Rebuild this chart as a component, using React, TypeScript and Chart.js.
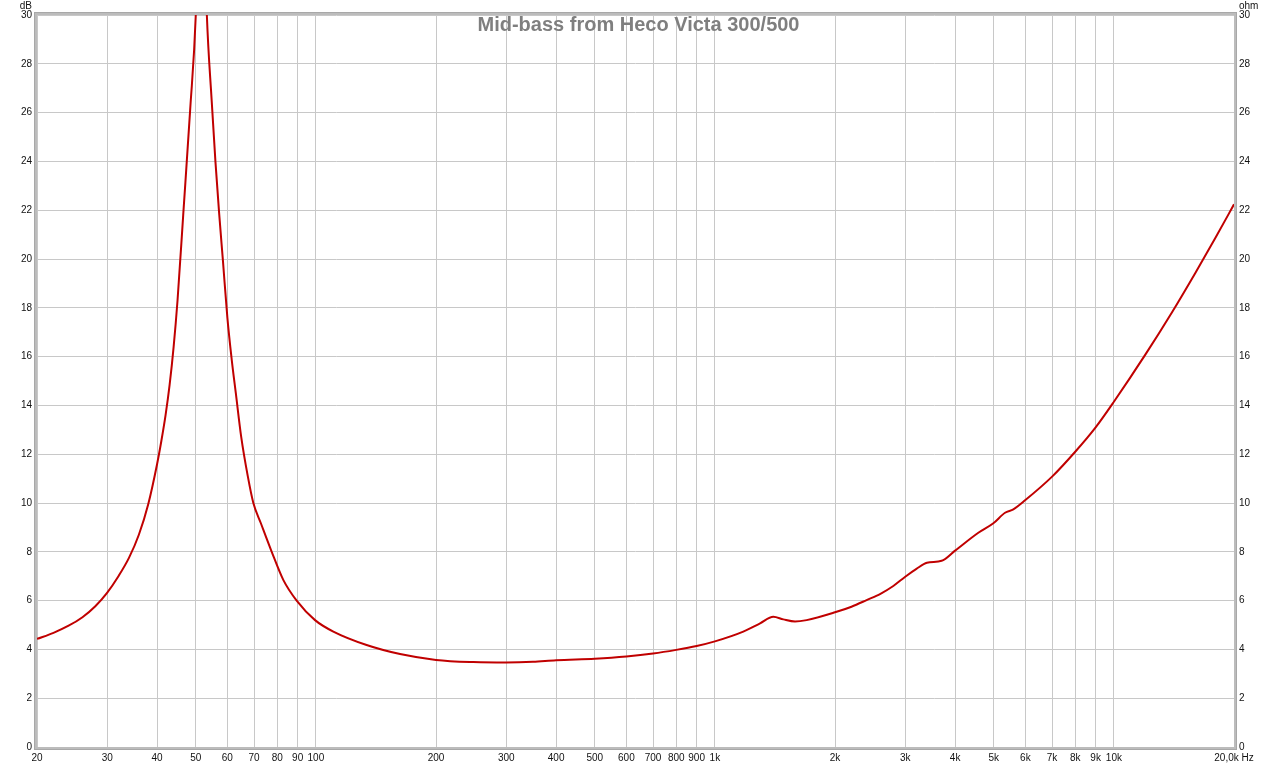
import React, { useEffect, useRef } from "react";
import { Chart, registerables } from "chart.js";

Chart.register(...registerables);

const chartTitle = "Mid-bass from Heco Victa 300/500";

const freqs = [
  20, 22, 24, 26, 28, 30, 32, 34, 36, 38, 40, 41, 42, 43, 44, 45, 46.5, 48.4, 50, 51.6,
  53.3, 54.8, 56, 57.2, 58.5, 60, 61.5, 63, 65, 67.5, 69.7, 72.8, 77.5, 82.9, 89.5, 99.5, 110.6, 134,
  162.5, 200, 248, 300, 350, 400, 500, 600, 700, 800, 900, 1000, 1178, 1298, 1401, 1484, 1588,
  1698, 2000, 2200, 2400, 2600, 2800, 3000, 3200, 3400, 3700, 4000, 4574, 4988, 5336, 5598, 6000, 7000,
  8000, 9000, 10000, 12000, 14000, 16000, 18000, 20000,
];

const impedance = [
  4.43, 4.68, 4.97, 5.32, 5.77, 6.33, 7.0, 7.75, 8.7, 9.95, 11.6, 12.55, 13.6, 14.85, 16.4, 18.3, 21.8, 26.1, 30, 38,
  30, 26.5, 24, 21.9, 19.9, 17.6, 15.9, 14.5, 12.7, 11.1, 10.0, 9.17, 8, 6.84, 6.0, 5.2, 4.73, 4.18,
  3.81, 3.57, 3.48, 3.46, 3.49, 3.56, 3.62, 3.71, 3.83, 3.98, 4.14, 4.33, 4.73, 5.07, 5.34, 5.23, 5.14,
  5.2, 5.52, 5.75, 6.02, 6.28, 6.6, 6.98, 7.3, 7.55, 7.63, 8.05, 8.78, 9.17, 9.6, 9.74, 10.12, 11.08,
  12.1, 13.1, 14.15, 16.09, 17.83, 19.43, 20.89, 22.24,
];

const xTickValues = [
  20, 30, 40, 50, 60, 70, 80, 90, 100, 200, 300, 400, 500, 600, 700, 800, 900, 1000, 2000, 3000,
  4000, 5000, 6000, 7000, 8000, 9000, 10000, 20000,
];
const xTickLabels = [
  "20", "30", "40", "50", "60", "70", "80", "90", "100", "200", "300", "400", "500", "600", "700",
  "800", "900", "1k", "2k", "3k", "4k", "5k", "6k", "7k", "8k", "9k", "10k", "20,0k Hz",
];

const yMin = 0;
const yMax = 30;
const yStep = 2;
const leftUnit = "dB";
const rightUnit = "ohm";

const framePlugin = {
  id: "framePlugin",
  afterDraw(chart: any) {
    const { ctx, chartArea } = chart;
    const { left, right, top, bottom } = chartArea;
    ctx.save();
    ctx.lineWidth = 3;
    ctx.strokeStyle = "#bcbcbc";
    ctx.strokeRect(left - 1.5, top - 1.5, right - left + 3, bottom - top + 3);
    ctx.lineWidth = 1;
    ctx.strokeStyle = "#a8a8a8";
    ctx.strokeRect(left - 2.5, top - 2.5, right - left + 5, bottom - top + 5);
    // title
    ctx.font = "bold 20px 'Liberation Sans', Arial, sans-serif";
    ctx.fillStyle = "#7f7f7f";
    ctx.textAlign = "center";
    ctx.textBaseline = "alphabetic";
    ctx.fillText(chartTitle, (left + right) / 2 + 3, top + 16);
    // units
    ctx.font = "10px 'Liberation Sans', Arial, sans-serif";
    ctx.fillStyle = "#111";
    ctx.textAlign = "right";
    ctx.fillText(leftUnit, left - 5, top - 6);
    ctx.textAlign = "left";
    ctx.fillText(rightUnit, right + 5, top - 6);
    ctx.restore();
  },
};

export default function App() {
  const canvasRef = useRef<HTMLCanvasElement | null>(null);

  useEffect(() => {
    if (!canvasRef.current) return;
    const tickFont = { family: "'Liberation Sans', Arial, sans-serif", size: 10 };
    const chart = new Chart(canvasRef.current, {
      type: "line",
      data: {
        datasets: [
          {
            data: freqs.map((f, i) => ({ x: f, y: impedance[i] })),
            borderColor: "#c00000",
            borderWidth: 2,
            pointRadius: 0,
            cubicInterpolationMode: "monotone",
            fill: false,
          },
        ],
      },
      options: {
        animation: false,
        responsive: true,
        maintainAspectRatio: false,
        layout: { padding: { top: 15, left: 0, right: 0, bottom: 0 } },
        plugins: { legend: { display: false }, tooltip: { enabled: false }, title: { display: false } },
        scales: {
          x: {
            type: "logarithmic",
            min: 20,
            max: 20000,
            afterBuildTicks: (axis: any) => {
              axis.ticks = xTickValues.map((v) => ({ value: v }));
            },
            afterFit: (s: any) => {
              s.height = 20;
            },
            ticks: {
              autoSkip: false,
              maxRotation: 0,
              padding: 5,
              color: "#111",
              font: tickFont,
              callback: (v: any) => {
                const i = xTickValues.indexOf(Number(v));
                return i >= 0 ? xTickLabels[i] : "";
              },
            },
            grid: { color: "#c8c8c8", lineWidth: 1, drawTicks: false },
            border: { display: false },
          },
          y: {
            position: "left",
            min: yMin,
            max: yMax,
            afterFit: (s: any) => {
              s.width = 37;
            },
            ticks: { stepSize: yStep, padding: 5, color: "#111", font: tickFont },
            grid: { color: "#c8c8c8", lineWidth: 1, drawTicks: false },
            border: { display: false },
          },
          y2: {
            position: "right",
            min: yMin,
            max: yMax,
            afterFit: (s: any) => {
              s.width = 46;
            },
            ticks: { stepSize: yStep, padding: 5, color: "#111", font: tickFont },
            grid: { display: false, drawTicks: false },
            border: { display: false },
          },
        },
      } as any,
      plugins: [framePlugin],
    });
    return () => chart.destroy();
  }, []);

  return (
    <div style={{ position: "fixed", left: 0, top: 0, width: 1280, height: 767, background: "#fff" }}>
      <canvas ref={canvasRef} />
    </div>
  );
}
